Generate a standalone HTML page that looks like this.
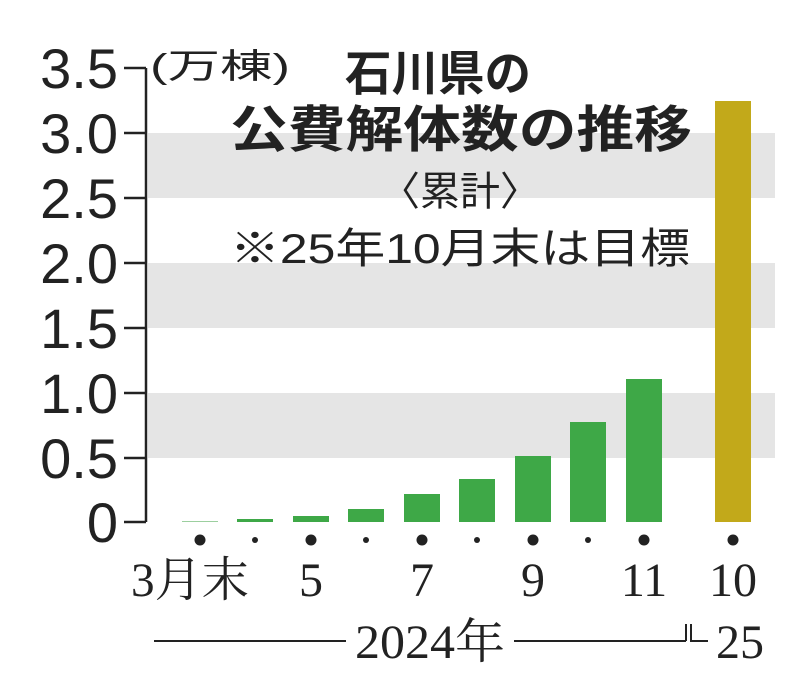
<!DOCTYPE html>
<html><head><meta charset="utf-8"><style>
body{margin:0;background:#fff;}
svg{display:block}
.s{font-family:"Liberation Sans","Noto Sans CJK JP",sans-serif}
.r{font-family:"Liberation Serif","Noto Serif CJK SC",serif}
</style></head><body>
<svg width="800" height="682" viewBox="0 0 800 682" xmlns="http://www.w3.org/2000/svg">
<rect x="148" y="393" width="627" height="65" fill="#e5e5e5"/>
<rect x="148" y="263" width="627" height="65" fill="#e5e5e5"/>
<rect x="148" y="133" width="627" height="65" fill="#e5e5e5"/>
<g stroke="#222" stroke-width="2.5" fill="none">
<line x1="146" y1="68" x2="146" y2="522"/>
<line x1="124" y1="68" x2="146" y2="68"/>
<line x1="124" y1="133" x2="146" y2="133"/>
<line x1="124" y1="198" x2="146" y2="198"/>
<line x1="124" y1="263" x2="146" y2="263"/>
<line x1="124" y1="328" x2="146" y2="328"/>
<line x1="124" y1="393" x2="146" y2="393"/>
<line x1="124" y1="458" x2="146" y2="458"/>
<line x1="124" y1="522" x2="146" y2="522"/>
</g>
<g class="s" font-size="56" fill="#222" text-anchor="end">
<text x="118" y="88">3.5</text><text x="118" y="153">3.0</text><text x="118" y="218">2.5</text>
<text x="118" y="283">2.0</text><text x="118" y="348">1.5</text><text x="118" y="413">1.0</text>
<text x="118" y="478">0.5</text><text x="118" y="542">0</text>
</g>
<g fill="#3ea847">
<rect x="182" y="521" width="36" height="1" fill="#9ccf9f"/>
<rect x="237" y="519" width="36" height="3"/>
<rect x="293" y="516" width="36" height="6"/>
<rect x="348" y="509" width="36" height="13"/>
<rect x="404" y="494" width="36" height="28"/>
<rect x="459" y="479" width="36" height="43"/>
<rect x="515" y="456" width="36" height="66"/>
<rect x="570" y="422" width="36" height="100"/>
<rect x="626" y="379" width="36" height="143"/>
</g>
<rect x="715" y="101" width="36" height="421" fill="#c2a91a"/>
<g fill="#222">
<circle cx="200" cy="540" r="5.5"/><circle cx="255" cy="540" r="3"/>
<circle cx="311" cy="540" r="5.5"/><circle cx="366" cy="540" r="3"/>
<circle cx="422" cy="540" r="5.5"/><circle cx="477" cy="540" r="3"/>
<circle cx="533" cy="540" r="5.5"/><circle cx="588" cy="540" r="3"/>
<circle cx="644" cy="540" r="5.5"/><circle cx="733" cy="540" r="5.5"/>
</g>
<g class="r" font-size="48" fill="#222" text-anchor="middle">
<text x="190" y="596" textLength="118" lengthAdjust="spacingAndGlyphs">3月末</text><text x="311" y="596">5</text><text x="422" y="596">7</text>
<text x="533" y="596">9</text><text x="644" y="596">11</text><text x="733" y="596">10</text>
<text x="430" y="658" textLength="150" lengthAdjust="spacingAndGlyphs">2024年</text><text x="740" y="658">25</text>
</g>
<g stroke="#222" stroke-width="2" fill="none">
<line x1="154" y1="641" x2="346" y2="641"/>
<line x1="514" y1="641" x2="686" y2="641"/>
<polyline points="686,641 686,624"/>
<polyline points="691,624 691,641 708,641"/>
</g>
<g class="s" fill="#222">
<text x="150" y="78" font-size="34" textLength="140" lengthAdjust="spacingAndGlyphs">(万棟)</text>
<text x="345" y="90" font-size="48" font-weight="bold" textLength="186" lengthAdjust="spacingAndGlyphs">石川県の</text>
<text x="230" y="147" font-size="50" font-weight="bold" textLength="462" lengthAdjust="spacingAndGlyphs">公費解体数の推移</text>
<text x="460" y="205" font-size="40" text-anchor="middle">〈累計〉</text>
<text x="230" y="263" font-size="42" textLength="460" lengthAdjust="spacingAndGlyphs">※25年10月末は目標</text>
</g>
</svg>
</body></html>
